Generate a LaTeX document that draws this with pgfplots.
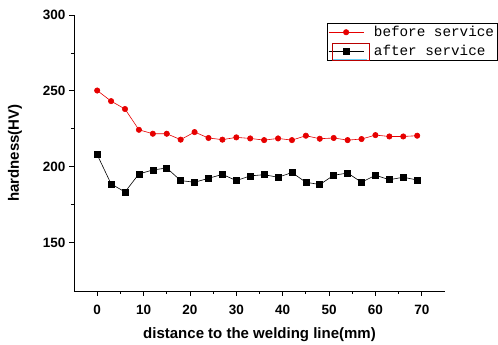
\documentclass[border=0pt]{standalone}
\usepackage{pgfplots}
\pgfplotsset{compat=1.18}
\usepackage{fontspec}
\setmainfont{Liberation Sans}
\newfontfamily\legfont{Liberation Mono}
\definecolor{myred}{RGB}{230,0,0}
\begin{document}
\begin{tikzpicture}
\begin{axis}[
 at={(0,0)}, anchor=south west,
 scale only axis, width=371pt, height=276pt,
 xmin=-5, xmax=75, ymin=118, ymax=300,
 axis lines*=left,
 xtick={0,10,...,70}, ytick={150,200,250,300},
 minor x tick num=1, minor y tick num=1,
 tick align=outside, major tick length=5pt, minor tick length=3pt,
 every tick/.style={black, line width=0.8pt},
 axis line style={line width=0.9pt},
 /pgf/number format/assume math mode=true,
 ticklabel style={font=\bfseries\fontsize{13.5}{14}\selectfont},
 xticklabel style={yshift=-6pt},
 xlabel={distance to the welding line(mm)}, ylabel={hardness(HV)},
 label style={font=\bfseries\fontsize{15}{16}\selectfont},
 xlabel style={yshift=-6pt},
 ylabel style={yshift=14pt},
 legend style={at={(rel axis cs:0.682,0.971)}, anchor=north west, draw=black, line width=0.6pt,
   font=\legfont\fontsize{14.3}{15}\selectfont, inner sep=1pt, row sep=3pt},
 legend cell align=left,
 legend image code/.code={\draw[mark repeat=2,mark phase=2,#1] plot coordinates {(2pt,0pt) (19.5pt,0pt) (37pt,0pt)}; \path (45pt,0pt);},
]
\addplot[myred, line width=0.6pt, mark=*, mark size=2.7pt, mark options={fill=myred, draw=myred}] coordinates {
(0,250.2)(3,243.2)(6,238)(9,224.3)(12,221.7)(15,221.7)(18,217.8)(21,222.8)(24,218.9)(27,217.8)(30,219.3)(33,218.6)(36,217.5)(39,218.6)(42,217.5)(45,220.4)(48,218.4)(51,218.9)(54,217.5)(57,218.2)(60,220.8)(63,219.9)(66,219.9)(69,220.4)};
\addlegendentry{before service}
\addplot[black, line width=0.6pt, mark=square*, mark size=3pt] coordinates {
(0,207.9)(3,188.6)(6,183.3)(9,195.2)(12,197.8)(15,199.1)(18,190.8)(21,189.7)(24,192.3)(27,194.9)(30,190.8)(33,193.9)(36,194.7)(39,193)(42,196.1)(45,189.7)(48,188.2)(51,194.3)(54,195.8)(57,189.7)(60,194.3)(63,191.4)(66,193)(69,191.2)};
\addlegendentry{after service}
\end{axis}
\draw[myred!80!black, line width=0.6pt] (258pt,231pt) rectangle (295pt,248pt);
\draw[cyan!60, line width=1pt] (259pt,231.5pt) -- (293pt,231.5pt);
\pgfresetboundingbox
\useasboundingbox (-74pt,-54pt) rectangle (424pt,291pt);
\end{tikzpicture}
\end{document}
